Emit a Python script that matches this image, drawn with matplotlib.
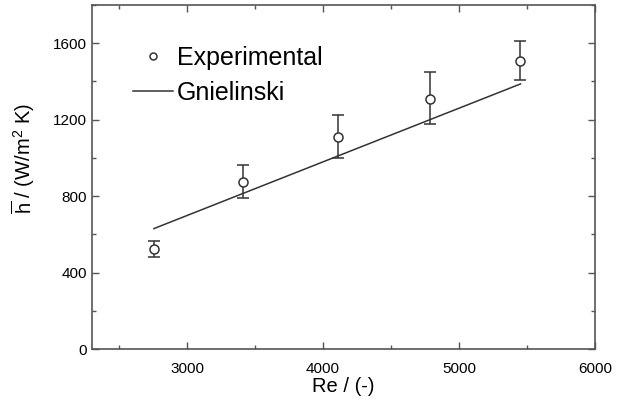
import matplotlib
matplotlib.use("Agg")
import matplotlib.pyplot as plt
from matplotlib.ticker import MultipleLocator
from matplotlib.lines import Line2D

plt.rcParams['font.family'] = ['Liberation Sans', 'DejaVu Sans']
plt.rcParams['mathtext.fontset'] = 'custom'
plt.rcParams['mathtext.rm'] = 'Liberation Sans'
plt.rcParams['mathtext.it'] = 'Liberation Sans:italic'

# Data
re_exp = [2755, 3410, 4110, 4786, 5452]
h_exp = [522, 872, 1107, 1309, 1509]
h_err_low = [40, 80, 105, 132, 100]
h_err_high = [45, 90, 115, 138, 104]

re_gn = [2755, 5452]
h_gn = [630, 1387]

fig = plt.figure(figsize=(6.19, 4.08), dpi=100)
ax = fig.add_axes([0.1486, 0.1446, 0.8126, 0.8431])

col = '#333333'
ax.plot(re_gn, h_gn, '-', color=col, lw=1.1)
ax.errorbar(re_exp, h_exp, yerr=[h_err_low, h_err_high], fmt='o', mfc='white', mec=col,
            ms=6.5, mew=1.1, ecolor=col, elinewidth=1.1, capsize=4, capthick=1.1)

ax.set_xlim(2300, 6000)
ax.set_ylim(0, 1800)
ax.xaxis.set_major_locator(MultipleLocator(1000))
ax.xaxis.set_minor_locator(MultipleLocator(500))
ax.yaxis.set_major_locator(MultipleLocator(400))
ax.yaxis.set_minor_locator(MultipleLocator(200))
ax.tick_params(which='both', direction='in', top=True, right=True, labeltop=False,
               labelright=False, color='#555555', labelsize=11)
ax.tick_params(which='major', length=5, width=1)
ax.tick_params(which='minor', length=3, width=1)
ax.tick_params(axis='x', pad=9)
for s in ax.spines.values():
    s.set_color('#555555')
    s.set_linewidth(1.2)

ax.set_xlabel('Re / (-)', fontsize=14.5, labelpad=1)
ax.set_ylabel(r'$\overline{\mathrm{h}}$ / (W/m$^2$ K)', fontsize=14.5)
ax.yaxis.set_label_coords(-0.11, 0.555)

h1 = Line2D([], [], ls='none', marker='o', mfc='white', mec=col, ms=5, mew=1.1)
h2 = Line2D([], [], ls='-', color=col, lw=1.1)
leg = ax.legend([h1, h2], ['Experimental', 'Gnielinski'], loc='upper left',
                bbox_to_anchor=(0.062, 0.91), frameon=False, fontsize=18,
                handlelength=1.6, handletextpad=0.15, labelspacing=0.45,
                borderaxespad=0)

fig.savefig('out.png', dpi=100)
